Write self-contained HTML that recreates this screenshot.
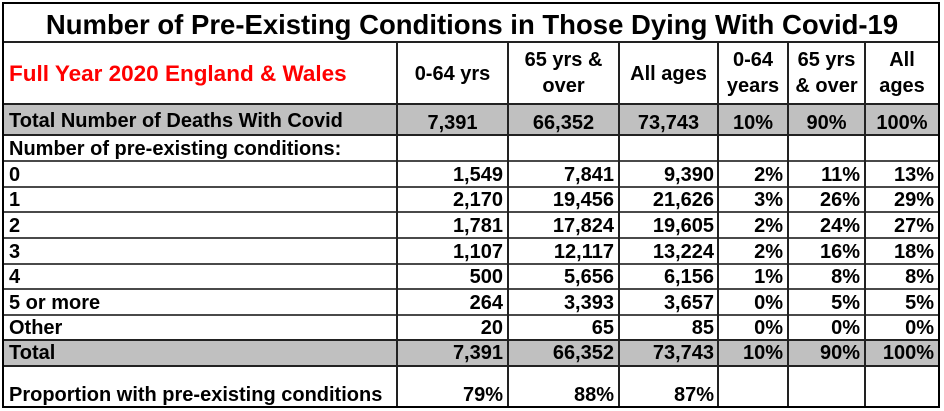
<!DOCTYPE html>
<html>
<head>
<meta charset="utf-8">
<style>
html,body{margin:0;padding:0;background:#fff;}
#c{position:relative;width:944px;height:411px;overflow:hidden;background:#fff;font-family:"Liberation Sans",Arial,sans-serif;}
.g{position:absolute;background:#c0c0c0;}
.h{position:absolute;left:3px;width:937px;height:2px;background:#222;}
.hl{position:absolute;left:3px;width:937px;height:2px;background:#4a4a4a;}
.v{position:absolute;top:42px;height:365px;width:2px;background:#222;}
.t{position:absolute;font-weight:bold;font-size:20px;line-height:20px;height:20px;white-space:nowrap;color:#000;}
.c1{left:397px;width:111px;text-align:center;}
.c2{left:508px;width:111px;text-align:center;}
.c3{left:619px;width:99px;text-align:center;}
.c4{left:718px;width:70px;text-align:center;}
.c5{left:788px;width:77px;text-align:center;}
.c6{left:865px;width:74px;text-align:center;}
.r1{right:441px;}
.r2{right:330px;}
.r3{right:230px;}
.r4{right:161px;}
.r5{right:84px;}
.r6{right:10px;}
.l{left:9px;}
</style>
</head>
<body>
<div id="c">
<!-- grey rows -->
<div class="g" style="left:3px;top:104px;width:936px;height:31px;"></div>
<div class="g" style="left:3px;top:340px;width:936px;height:26px;"></div>

<!-- horizontal lines -->
<div class="h" style="top:41px;"></div>
<div class="h" style="top:103px;"></div>
<div class="h" style="top:134px;"></div>
<div class="hl" style="top:160px;"></div>
<div class="hl" style="top:186px;"></div>
<div class="hl" style="top:211px;"></div>
<div class="hl" style="top:237px;"></div>
<div class="hl" style="top:263px;"></div>
<div class="hl" style="top:288px;"></div>
<div class="hl" style="top:314px;"></div>
<div class="h" style="top:339px;"></div>
<div class="h" style="top:365px;"></div>

<!-- vertical lines -->
<div class="v" style="left:396px;"></div>
<div class="v" style="left:507px;"></div>
<div class="v" style="left:618px;"></div>
<div class="v" style="left:717px;"></div>
<div class="v" style="left:787px;"></div>
<div class="v" style="left:864px;"></div>

<!-- outer border -->
<div style="position:absolute;left:2px;top:2px;width:934px;height:402px;border:2px solid #000;"></div>

<!-- title -->
<div class="t" style="left:0;width:944px;text-align:center;top:11px;font-size:27.5px;line-height:28px;height:28px;">Number of Pre-Existing Conditions in Those Dying With Covid-19</div>

<!-- header -->
<div class="t" style="left:9px;top:62px;font-size:22.5px;line-height:24px;height:24px;color:#ff0000;">Full Year 2020 England &amp; Wales</div>
<div class="t c1" style="top:64px;">0-64 yrs</div>
<div class="t c2" style="top:50px;">65 yrs &amp;</div>
<div class="t c2" style="top:76px;">over</div>
<div class="t c3" style="top:64px;">All ages</div>
<div class="t c4" style="top:50px;">0-64</div>
<div class="t c4" style="top:76px;">years</div>
<div class="t c5" style="top:50px;">65 yrs</div>
<div class="t c5" style="top:76px;">&amp; over</div>
<div class="t c6" style="top:50px;">All</div>
<div class="t c6" style="top:76px;">ages</div>

<!-- total deaths row -->
<div class="t l" style="top:111px;">Total Number of Deaths With Covid</div>
<div class="t c1" style="top:113px;">7,391</div>
<div class="t c2" style="top:113px;">66,352</div>
<div class="t c3" style="top:113px;">73,743</div>
<div class="t c4" style="top:113px;">10%</div>
<div class="t c5" style="top:113px;">90%</div>
<div class="t c6" style="top:113px;">100%</div>

<div class="t l" style="top:139px;">Number of pre-existing conditions:</div>

<!-- row 0 -->
<div class="t l" style="top:165px;">0</div>
<div class="t r1" style="top:165px;">1,549</div>
<div class="t r2" style="top:165px;">7,841</div>
<div class="t r3" style="top:165px;">9,390</div>
<div class="t r4" style="top:165px;">2%</div>
<div class="t r5" style="top:165px;">11%</div>
<div class="t r6" style="top:165px;">13%</div>

<!-- row 1 -->
<div class="t l" style="top:190px;">1</div>
<div class="t r1" style="top:190px;">2,170</div>
<div class="t r2" style="top:190px;">19,456</div>
<div class="t r3" style="top:190px;">21,626</div>
<div class="t r4" style="top:190px;">3%</div>
<div class="t r5" style="top:190px;">26%</div>
<div class="t r6" style="top:190px;">29%</div>

<!-- row 2 -->
<div class="t l" style="top:216px;">2</div>
<div class="t r1" style="top:216px;">1,781</div>
<div class="t r2" style="top:216px;">17,824</div>
<div class="t r3" style="top:216px;">19,605</div>
<div class="t r4" style="top:216px;">2%</div>
<div class="t r5" style="top:216px;">24%</div>
<div class="t r6" style="top:216px;">27%</div>

<!-- row 3 -->
<div class="t l" style="top:242px;">3</div>
<div class="t r1" style="top:242px;">1,107</div>
<div class="t r2" style="top:242px;">12,117</div>
<div class="t r3" style="top:242px;">13,224</div>
<div class="t r4" style="top:242px;">2%</div>
<div class="t r5" style="top:242px;">16%</div>
<div class="t r6" style="top:242px;">18%</div>

<!-- row 4 -->
<div class="t l" style="top:267px;">4</div>
<div class="t r1" style="top:267px;">500</div>
<div class="t r2" style="top:267px;">5,656</div>
<div class="t r3" style="top:267px;">6,156</div>
<div class="t r4" style="top:267px;">1%</div>
<div class="t r5" style="top:267px;">8%</div>
<div class="t r6" style="top:267px;">8%</div>

<!-- row 5 or more -->
<div class="t l" style="top:293px;">5 or more</div>
<div class="t r1" style="top:293px;">264</div>
<div class="t r2" style="top:293px;">3,393</div>
<div class="t r3" style="top:293px;">3,657</div>
<div class="t r4" style="top:293px;">0%</div>
<div class="t r5" style="top:293px;">5%</div>
<div class="t r6" style="top:293px;">5%</div>

<!-- row Other -->
<div class="t l" style="top:318px;">Other</div>
<div class="t r1" style="top:318px;">20</div>
<div class="t r2" style="top:318px;">65</div>
<div class="t r3" style="top:318px;">85</div>
<div class="t r4" style="top:318px;">0%</div>
<div class="t r5" style="top:318px;">0%</div>
<div class="t r6" style="top:318px;">0%</div>

<!-- Total row -->
<div class="t l" style="top:343px;">Total</div>
<div class="t r1" style="top:343px;">7,391</div>
<div class="t r2" style="top:343px;">66,352</div>
<div class="t r3" style="top:343px;">73,743</div>
<div class="t r4" style="top:343px;">10%</div>
<div class="t r5" style="top:343px;">90%</div>
<div class="t r6" style="top:343px;">100%</div>

<!-- Proportion row -->
<div class="t l" style="top:385px;">Proportion with pre-existing conditions</div>
<div class="t r1" style="top:385px;">79%</div>
<div class="t r2" style="top:385px;">88%</div>
<div class="t r3" style="top:385px;">87%</div>
</div>
</body>
</html>
